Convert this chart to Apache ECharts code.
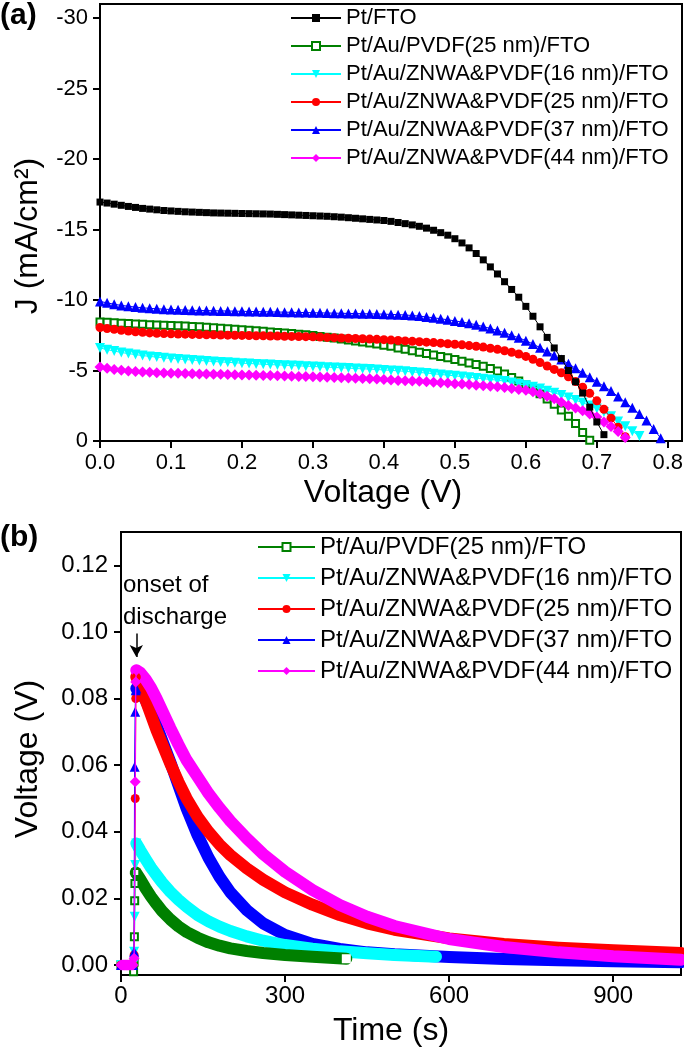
<!DOCTYPE html>
<html><head><meta charset="utf-8">
<script src="https://cdn.jsdelivr.net/npm/echarts@6/dist/echarts.min.js"></script>
<style>html,body{margin:0;padding:0;background:#fff}#c{width:684px;height:1050px}</style>
</head><body><div id="c"></div>
<script>
const FONT = 'Liberation Sans, Arial, Helvetica, sans-serif';

// ---------- Panel (a): J-V curves ----------
const voltage = [0.00,0.01,0.02,0.03,0.04,0.05,0.06,0.07,0.08,0.09,
  0.10,0.11,0.12,0.13,0.14,0.15,0.16,0.17,0.18,0.19,
  0.20,0.21,0.22,0.23,0.24,0.25,0.26,0.27,0.28,0.29,
  0.30,0.31,0.32,0.33,0.34,0.35,0.36,0.37,0.38,0.39,
  0.40,0.41,0.42,0.43,0.44,0.45,0.46,0.47,0.48,0.49,
  0.50,0.51,0.52,0.53,0.54,0.55,0.56,0.57,0.58,0.59,
  0.60,0.61,0.62,0.63,0.64,0.65,0.66,0.67,0.68,0.69,
  0.70,0.71,0.72,0.73,0.74,0.75,0.76,0.77,0.78,0.79];

const jPtFTO = [-16.95,-16.88,-16.80,-16.72,-16.64,-16.57,-16.50,-16.45,-16.40,-16.35,
  -16.32,-16.29,-16.26,-16.24,-16.22,-16.20,-16.18,-16.17,-16.16,-16.15,
  -16.14,-16.13,-16.12,-16.11,-16.10,-16.08,-16.06,-16.04,-16.02,-16.00,
  -15.98,-15.96,-15.94,-15.91,-15.88,-15.84,-15.80,-15.76,-15.72,-15.68,
  -15.64,-15.58,-15.50,-15.42,-15.33,-15.23,-15.10,-14.95,-14.78,-14.60,
  -14.35,-14.05,-13.70,-13.30,-12.85,-12.35,-11.85,-11.30,-10.75,-10.20,
  -9.55,-8.85,-8.10,-7.35,-6.60,-5.85,-5.00,-4.20,-3.40,-2.40,
  -1.35,-0.45];

const jPVDF25 = [-8.45,-8.42,-8.39,-8.36,-8.33,-8.30,-8.28,-8.25,-8.23,-8.21,
  -8.19,-8.17,-8.15,-8.12,-8.10,-8.07,-8.04,-8.00,-7.97,-7.93,
  -7.90,-7.86,-7.82,-7.78,-7.74,-7.70,-7.66,-7.62,-7.58,-7.53,
  -7.48,-7.42,-7.36,-7.30,-7.23,-7.16,-7.09,-7.02,-6.95,-6.88,
  -6.80,-6.72,-6.60,-6.50,-6.40,-6.30,-6.20,-6.10,-6.00,-5.90,
  -5.78,-5.66,-5.54,-5.42,-5.30,-5.15,-4.97,-4.75,-4.50,-4.25,
  -3.98,-3.68,-3.35,-2.98,-2.60,-2.20,-1.75,-1.25,-0.60,-0.05];

const jZnwa16 = [-6.60,-6.48,-6.38,-6.28,-6.20,-6.13,-6.06,-6.00,-5.95,-5.90,
  -5.86,-5.82,-5.78,-5.74,-5.71,-5.68,-5.64,-5.61,-5.58,-5.55,
  -5.52,-5.50,-5.47,-5.45,-5.42,-5.40,-5.38,-5.35,-5.33,-5.31,
  -5.29,-5.26,-5.24,-5.22,-5.19,-5.17,-5.14,-5.12,-5.10,-5.07,
  -5.04,-5.01,-4.98,-4.94,-4.90,-4.86,-4.82,-4.77,-4.72,-4.67,
  -4.62,-4.57,-4.52,-4.47,-4.42,-4.37,-4.31,-4.25,-4.15,-4.05,
  -3.95,-3.85,-3.72,-3.57,-3.42,-3.26,-3.08,-2.90,-2.72,-2.52,
  -2.30,-2.05,-1.75,-1.38,-1.05,-0.70,-0.35];

const jZnwa25 = [-8.05,-7.98,-7.92,-7.86,-7.80,-7.75,-7.71,-7.67,-7.64,-7.62,
  -7.60,-7.59,-7.58,-7.56,-7.55,-7.54,-7.53,-7.52,-7.51,-7.50,
  -7.49,-7.48,-7.47,-7.46,-7.45,-7.44,-7.43,-7.42,-7.41,-7.40,
  -7.39,-7.37,-7.35,-7.33,-7.31,-7.29,-7.27,-7.25,-7.23,-7.21,
  -7.19,-7.16,-7.13,-7.10,-7.07,-7.04,-7.01,-6.98,-6.94,-6.90,
  -6.86,-6.82,-6.77,-6.72,-6.66,-6.58,-6.50,-6.40,-6.29,-6.17,
  -6.00,-5.80,-5.56,-5.32,-5.08,-4.84,-4.56,-4.22,-3.82,-3.38,
  -2.85,-2.25,-1.62,-0.98,-0.30];

const jZnwa37 = [-9.90,-9.80,-9.70,-9.62,-9.56,-9.50,-9.45,-9.41,-9.38,-9.35,
  -9.33,-9.31,-9.29,-9.27,-9.26,-9.25,-9.24,-9.23,-9.22,-9.21,
  -9.20,-9.19,-9.18,-9.17,-9.16,-9.15,-9.14,-9.13,-9.12,-9.11,
  -9.10,-9.09,-9.08,-9.07,-9.06,-9.05,-9.04,-9.03,-9.02,-9.01,
  -9.00,-8.98,-8.96,-8.94,-8.90,-8.86,-8.80,-8.74,-8.67,-8.60,
  -8.52,-8.44,-8.35,-8.24,-8.12,-7.98,-7.84,-7.68,-7.50,-7.32,
  -7.12,-6.88,-6.62,-6.35,-6.06,-5.78,-5.48,-5.16,-4.84,-4.52,
  -4.20,-3.88,-3.55,-3.15,-2.75,-2.35,-1.92,-1.45,-0.85,-0.20];

const jZnwa44 = [-5.25,-5.16,-5.08,-5.02,-4.97,-4.93,-4.90,-4.87,-4.85,-4.83,
  -4.81,-4.80,-4.79,-4.77,-4.76,-4.75,-4.74,-4.73,-4.71,-4.70,
  -4.69,-4.68,-4.66,-4.65,-4.64,-4.62,-4.61,-4.60,-4.58,-4.57,
  -4.56,-4.54,-4.53,-4.51,-4.49,-4.47,-4.45,-4.43,-4.41,-4.39,
  -4.36,-4.33,-4.30,-4.28,-4.25,-4.23,-4.20,-4.17,-4.14,-4.11,
  -4.07,-4.04,-4.00,-3.96,-3.92,-3.88,-3.84,-3.79,-3.73,-3.66,
  -3.60,-3.50,-3.35,-3.18,-3.00,-2.74,-2.52,-2.34,-2.15,-1.92,
  -1.70,-1.35,-1.02,-0.68,-0.25];

const namesA = ['Pt/FTO','Pt/Au/PVDF(25 nm)/FTO','Pt/Au/ZNWA&PVDF(16 nm)/FTO',
  'Pt/Au/ZNWA&PVDF(25 nm)/FTO','Pt/Au/ZNWA&PVDF(37 nm)/FTO','Pt/Au/ZNWA&PVDF(44 nm)/FTO'];
const xTicksA = [0,0.1,0.2,0.3,0.4,0.5,0.6,0.7,0.8];
const yTicksA = [-30,-25,-20,-15,-10,-5,0];

// ---------- Panel (b): open-circuit voltage decay ----------
const riseTGreen = [0,2,4,6,8,10,12,14,16,18,20,22,23,24,24.5,25,25.5,27];
const riseVGreen = [0,0,0,0,0,0,0,0,0,0,0,0,-0.002,0.0008,0.0085,0.0193,0.0245,0.0278];
const riseTCyan = [0,2,4,6,8,10,12,14,16,18,20,22,24,25,26,28];
const riseVCyan = [0,0,0,0,0,0,0,0,0,0,0,0,0.004,0.0145,0.030,0.0365];
const riseTRed = [0,2,4,6,8,10,12,14,16,18,20,22,24,26,27,28];
const riseVRed = [0,0,0,0,0,0,0,0,0,0,0,0,0.003,0.050,0.080,0.0865];
const riseTBlue = [0,2,4,6,8,10,12,14,16,18,20,22,24,25,26,27,28];
const riseVBlue = [0,0,0,0,0,0,0,0,0,0,0,0,0.004,0.0595,0.076,0.0825,0.083];
const riseTMag = [0,2,4,6,8,10,12,14,16,18,20,22,24,26,27,28];
const riseVMag = [0,0,0,0,0,0,0,0,0,0,0,0,0.002,0.055,0.085,0.0885];

const decayT = [28,35,45,55,65,75,90,105,120,140,160,180,200,230,260,300,350,400,450,500,600,700,800,900,1024];
const decayMag = [0.0885,0.0878,0.0858,0.0832,0.0800,0.0765,0.0712,0.0662,0.0615,0.0565,0.0515,0.0472,0.0432,0.0380,0.0333,0.0280,0.0225,0.0180,0.0145,0.0117,0.0078,0.0054,0.0038,0.0026,0.0016];
const decayRed = [0.0865,0.0840,0.0795,0.0750,0.0705,0.0665,0.0605,0.0550,0.0500,0.0445,0.0400,0.0362,0.0330,0.0290,0.0256,0.0218,0.0181,0.0150,0.0125,0.0106,0.0080,0.0063,0.0052,0.0044,0.0036];
const decayBlue = [0.0830,0.0820,0.0795,0.0760,0.0720,0.0675,0.0610,0.0540,0.0470,0.0390,0.0322,0.0265,0.0218,0.0165,0.0125,0.0090,0.0063,0.0048,0.0038,0.0032,0.0024,0.0018,0.0014,0.0011,0.0008];
const decayTCyan = [28,35,45,55,65,75,90,105,120,140,160,180,200,230,260,300,350,400,450,500,576];
const decayCyan = [0.0365,0.0345,0.0318,0.0292,0.0270,0.0248,0.0220,0.0196,0.0175,0.0150,0.0131,0.0115,0.0102,0.0086,0.0073,0.0060,0.0049,0.0041,0.0035,0.0030,0.0025];
const decayTGreen = [27,35,45,55,65,75,90,105,120,140,160,180,200,230,260,300,350,412];
const decayGreen = [0.0278,0.0258,0.0230,0.0205,0.0183,0.0162,0.0137,0.0116,0.0099,0.0082,0.0068,0.0058,0.0050,0.0042,0.0036,0.0030,0.0025,0.0019];

const namesB = ['Pt/Au/PVDF(25 nm)/FTO','Pt/Au/ZNWA&PVDF(16 nm)/FTO',
  'Pt/Au/ZNWA&PVDF(25 nm)/FTO','Pt/Au/ZNWA&PVDF(37 nm)/FTO','Pt/Au/ZNWA&PVDF(44 nm)/FTO'];
const xTicksB = [0,300,600,900];
const yTicksB = [0,0.02,0.04,0.06,0.08,0.10,0.12];

// ---------- build ----------
const pairs = (xs, ys) => ys.map((y, i) => [xs[i], y]);

const styleA = [
  {c:'#000000', s:'rect', z:8, size:7},
  {c:'#008000', s:'emptyRect', z:3, size:7},
  {c:'#00ffff', s:'triangle', rot:180, z:4, size:10},
  {c:'#ff0000', s:'circle', z:5, size:9},
  {c:'#0000ff', s:'triangle', z:6, size:10},
  {c:'#ff00ff', s:'diamond', z:7, size:11}
];
const dataA = [jPtFTO, jPVDF25, jZnwa16, jZnwa25, jZnwa37, jZnwa44];

const series = [];
dataA.forEach((d, i) => {
  const st = styleA[i];
  series.push({
    type:'line', name:namesA[i], xAxisIndex:0, yAxisIndex:0,
    data: pairs(voltage, d), symbol: st.s, symbolSize: st.size, symbolRotate: st.rot || 0,
    showSymbol:true, z: st.z,
    lineStyle:{color:st.c, width:1},
    itemStyle:{color:st.c, borderColor:st.c, borderWidth: st.s === 'emptyRect' ? 1.6 : 0},
    emphasis:{disabled:true}, animation:false
  });
});

// Panel (b)
const riseB = [
  {t:riseTGreen, v:riseVGreen, c:'#008000', s:'emptyRect', size:7},
  {t:riseTCyan, v:riseVCyan, c:'#00ffff', s:'triangle', rot:180, size:10},
  {t:riseTRed, v:riseVRed, c:'#ff0000', s:'circle', size:9},
  {t:riseTBlue, v:riseVBlue, c:'#0000ff', s:'triangle', size:10},
  {t:riseTMag, v:riseVMag, c:'#ff00ff', s:'diamond', size:11}
];
const decayB = [
  {t:decayTGreen, v:decayGreen, z:5},
  {t:decayTCyan, v:decayCyan, z:4},
  {t:decayT, v:decayRed, z:3},
  {t:decayT, v:decayBlue, z:2},
  {t:decayT, v:decayMag, z:6}
];
riseB.forEach((r, i) => {
  const ser = {
    type:'line', name:namesB[i], xAxisIndex:1, yAxisIndex:1,
    data: pairs(r.t, r.v), symbol:r.s, symbolSize:r.size, symbolRotate:r.rot || 0,
    showSymbol:true, z:10 + i,
    lineStyle:{color:r.c, width:1.2},
    itemStyle:{color:r.c, borderColor:r.c, borderWidth: r.s === 'emptyRect' ? 1.5 : 0},
    emphasis:{disabled:true}, animation:false
  };
  if (i === 4) {
    ser.markLine = {
      silent:true, symbol:['none','arrow'], symbolSize:[10,12],
      lineStyle:{color:'#000', width:1.5, type:'solid'}, label:{show:false},
      data:[[{coord:[28, 0.0995]}, {coord:[28, 0.0925]}]]
    };
  }
  series.push(ser);
});
decayB.forEach((d, i) => {
  const r = riseB[i];
  const data = pairs(d.t, d.v);
  if (i === 0) {
    const last = data.length - 1;
    data[last] = {value: data[last], symbol:'emptyRect', symbolSize:7,
      itemStyle:{color:'#fff', borderColor:r.c, borderWidth:1.5}};
  }
  series.push({
    type:'line', name:namesB[i], xAxisIndex:1, yAxisIndex:1,
    data, symbol: i === 0 ? 'emptyRect' : 'none', symbolSize:0, showSymbol: i === 0, z:d.z,
    lineStyle:{color:r.c, width:12, cap:'round', join:'round'},
    itemStyle:{color:r.c},
    emphasis:{disabled:true}, animation:false
  });
});

const axisCommon = {
  axisLine:{show:true, onZero:false, lineStyle:{color:'#000', width:2}},
  axisTick:{show:true, inside:false, length:7, lineStyle:{color:'#000', width:2}},
  splitLine:{show:false}
};

const option = {
  animation:false,
  backgroundColor:'#fff',
  textStyle:{fontFamily:FONT},
  grid:[
    {left:100, top:4, width:582, height:437, show:true, borderColor:'#000', borderWidth:2, containLabel:false, outerBoundsMode:'none'},
    {left:121, top:532, width:560, height:443, show:true, borderColor:'#000', borderWidth:2, containLabel:false, outerBoundsMode:'none'}
  ],
  xAxis:[
    Object.assign({type:'value', gridIndex:0, min:0, max:0.82,
      axisLabel:{customValues:xTicksA, formatter:v => v.toFixed(1), fontSize:22, color:'#000', fontFamily:FONT, margin:11},
    }, axisCommon, {axisTick:Object.assign({}, axisCommon.axisTick, {customValues:xTicksA})}),
    Object.assign({type:'value', gridIndex:1, min:0, max:1024,
      axisLabel:{customValues:xTicksB, formatter:v => String(v), fontSize:24, color:'#000', fontFamily:FONT, margin:9},
    }, axisCommon, {axisTick:Object.assign({}, axisCommon.axisTick, {customValues:xTicksB})})
  ],
  yAxis:[
    Object.assign({type:'value', gridIndex:0, min:-31, max:0, inverse:true,
      axisLabel:{customValues:yTicksA, formatter:v => String(v), fontSize:22, color:'#000', fontFamily:FONT, margin:12},
    }, axisCommon, {axisTick:Object.assign({}, axisCommon.axisTick, {customValues:yTicksA})}),
    Object.assign({type:'value', gridIndex:1, min:-0.003, max:0.13,
      axisLabel:{customValues:yTicksB, formatter:v => v.toFixed(2), fontSize:24, color:'#000', fontFamily:FONT, margin:13},
    }, axisCommon, {axisTick:Object.assign({}, axisCommon.axisTick, {customValues:yTicksB})})
  ],
  legend:[
    {data:namesA, orient:'vertical', left:290, top:7, padding:0, itemWidth:50, itemHeight:10, itemGap:6,
      textStyle:{fontSize:22, lineHeight:22, color:'#000', fontFamily:FONT}, selectedMode:false},
    {data:namesB, orient:'vertical', left:257, top:535, padding:0, itemWidth:57, itemHeight:10, itemGap:7,
      textStyle:{fontSize:24, lineHeight:24, color:'#000', fontFamily:FONT}, selectedMode:false}
  ],
  graphic:[
    {type:'text', x:0, y:16, style:{text:'(a)', font:'bold 30px ' + FONT, fill:'#000', textVerticalAlign:'middle'}},
    {type:'text', x:0, y:538, style:{text:'(b)', font:'bold 30px ' + FONT, fill:'#000', textVerticalAlign:'middle'}},
    {type:'text', x:28, y:236, rotation:Math.PI/2, style:{text:'J (mA/cm²)', font:'32px ' + FONT, fill:'#000', textAlign:'center', textVerticalAlign:'middle'}},
    {type:'text', x:383, y:493, style:{text:'Voltage (V)', font:'32px ' + FONT, fill:'#000', textAlign:'center', textVerticalAlign:'middle'}},
    {type:'text', x:28, y:759, rotation:Math.PI/2, style:{text:'Voltage (V)', font:'32px ' + FONT, fill:'#000', textAlign:'center', textVerticalAlign:'middle'}},
    {type:'text', x:391, y:1031, style:{text:'Time (s)', font:'32px ' + FONT, fill:'#000', textAlign:'center', textVerticalAlign:'middle'}},
    {type:'text', x:123, y:585, style:{text:'onset of', font:'24px ' + FONT, fill:'#000', textVerticalAlign:'middle'}},
    {type:'text', x:123, y:617, style:{text:'discharge', font:'24px ' + FONT, fill:'#000', textVerticalAlign:'middle'}}
  ],
  series
};

const chart = echarts.init(document.getElementById('c'), null, {renderer:'canvas', width:684, height:1050});
chart.setOption(option);
</script>
</body></html>
